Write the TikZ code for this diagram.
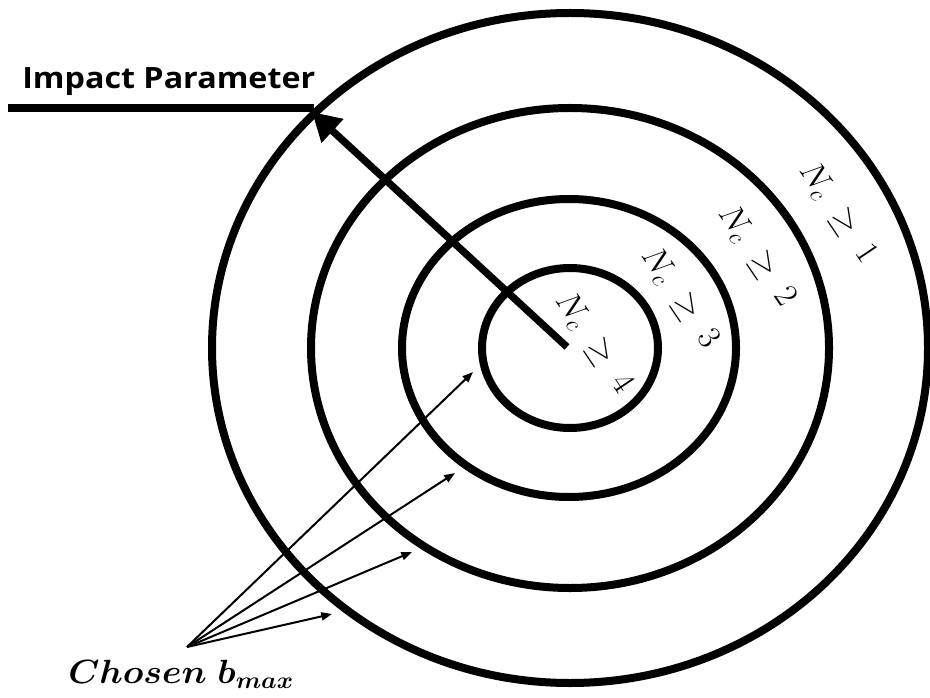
\documentclass[tikz,border=0pt]{standalone}
\usepackage{fontspec}
\usepackage{amsmath}
\usepackage{fix-cm}
\newfontfamily\osans{Open Sans}
\usetikzlibrary{arrows.meta}
\begin{document}
\begin{tikzpicture}[x=0.75pt,y=-0.75pt,
  ring/.style={line width=6pt},
  thickline/.style={line width=5.5pt},
  thinarrow/.style={line width=1.5pt,-{Triangle[length=8pt,width=6pt]}},
  nlabel/.style={rotate=-56,inner sep=0pt,font=\fontsize{25}{28}\selectfont},
]
\useasboundingbox (0,0) rectangle (930,698);
\coordinate (c) at (570,348);
\draw[ring] (c) ellipse [x radius=358, y radius=335];
\draw[ring] (c) ellipse [x radius=259, y radius=240];
\draw[ring] (569,348) ellipse [x radius=167, y radius=149];
\draw[ring] (c) ellipse [x radius=88, y radius=80];

\node[font=\osans\bfseries\fontsize{22}{26}\selectfont, anchor=base west, inner sep=0pt] (ip) at (22,89) {\scalebox{1.1}[1]{Impact Parameter}};
\coordinate (ls) at (8,108);
\coordinate (le) at (314,108);
\draw[thickline] (ls) -- (le);
\coordinate (pc) at (567,347);
\coordinate (pt) at (312,112);
\draw[thickline,-{Triangle[length=21pt,width=23pt]}] (pc) -- (pt);

\node[nlabel] (n4) at (594,343) {$N_c\;\geq\;4$};
\node[nlabel] (n3) at (680,298) {$N_c\;\geq\;3$};
\node[nlabel] (n2) at (757,256) {$N_c\;\geq\;2$};
\node[nlabel] (n1) at (838,213) {$N_c\;\geq\;1$};

\node[anchor=base west, inner sep=0pt, font=\fontsize{24}{28}\selectfont] (cb) at (68,683) {\scalebox{1.1}[1.05]{$\boldsymbol{Chosen\ b_{max}}$}};
\coordinate (o) at (187,647);
\coordinate (t1) at (473,372);
\coordinate (t2) at (455,473);
\coordinate (t3) at (412,552);
\coordinate (t4) at (332,614);
\foreach \t in {t1,t2,t3,t4} \draw[thinarrow] (o) -- (\t);
\end{tikzpicture}
\end{document}
